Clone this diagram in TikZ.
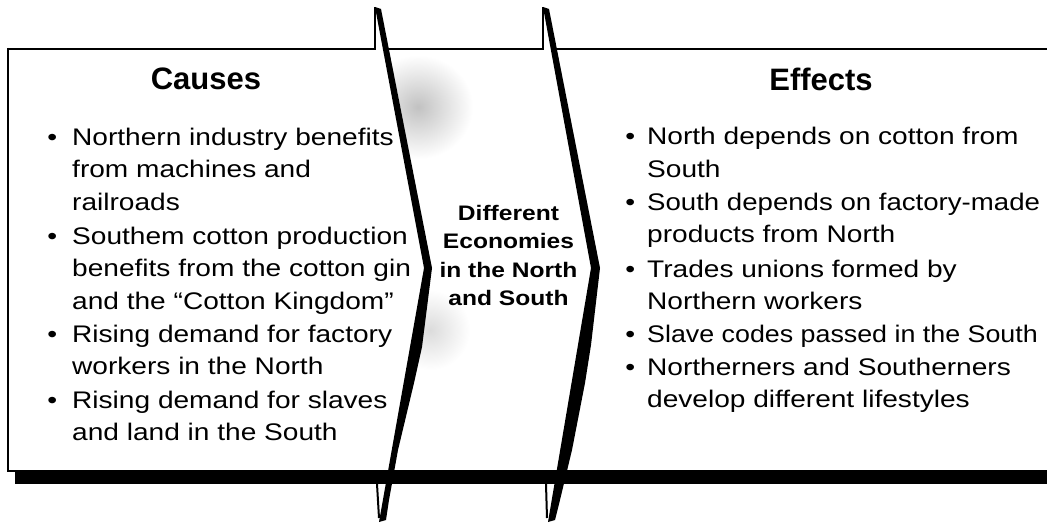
\documentclass[tikz,border=0pt]{standalone}
\usepackage{fontspec}
\setmainfont{Liberation Sans}[Ligatures=NoCommon]
\newfontfamily\bodyfont{Liberation Sans}[FakeStretch=1.17,Ligatures=NoCommon]
\newfontfamily\midfont{Liberation Sans}[FakeStretch=1.17,Ligatures=NoCommon]
\tikzset{
  edge/.style={line width=2pt, line cap=butt, line join=miter},
  chevfill/.style={fill=black},
  band/.style={fill=black},
  heading/.style={font=\bfseries\fontsize{31}{36}\selectfont, anchor=base, inner sep=0pt},
  item/.style={font=\bodyfont\fontsize{24}{32.75}\selectfont, anchor=base west, align=left, inner sep=0pt},
  midtext/.style={font=\midfont\bfseries\fontsize{21}{28.5}\selectfont, anchor=base, align=center, inner sep=0pt},
}
\begin{document}
\begin{tikzpicture}[x=1pt,y=-1pt]
\useasboundingbox (0,0) rectangle (1047,524);
\fill[white] (0,0) rectangle (1047,524);
% halftone-like shading in the middle band
\begin{scope}
  \clip (381,9) -- (432,268) -- (386,521) -- (700,521) -- (700,9) -- cycle;
  \shade[inner color=black!24, outer color=white] (418,107) ellipse [x radius=55pt, y radius=52pt];
  \shade[inner color=black!14, outer color=white] (430,330) ellipse [x radius=40pt, y radius=40pt];
\end{scope}
% box outline
\draw[edge] (8,49) -- (375,49) -- (375,7);
\draw[edge] (385,49) -- (543,49) -- (543,7);
\draw[edge] (553,49) -- (1048,49);
\draw[edge] (8,48) -- (8,471) -- (1048,471);
% shadow band
\fill[band] (15,472) rectangle (1048,484);
% bottom notches
\draw[edge] (377,484) -- (379,518);
\draw[edge] (546,484) -- (547,518);
% chevrons
\fill[chevfill] (375,7) -- (424,268) -- (379,522) -- (386,520) -- (389,500) -- (398,450) -- (414,383) -- (422,347) -- (432,268) -- (381,9) -- cycle;
\fill[chevfill] (543,7) -- (591,268) -- (548,522) -- (555,520) -- (560,500) -- (572,450) -- (585,383) -- (591,345) -- (600,268) -- (549,9) -- cycle;
% headings
\node[heading] (causes) at (206,90) {Causes};
\node[heading] (effects) at (821,91) {Effects};
% causes (anchored at the baseline of the last line)
\node[item] (c1) at (72,210.5) {\llap{•\hspace{15pt}}Northern industry benefits\\from machines and\\railroads};
\node[item] (c2) at (72,309.5) {\llap{•\hspace{15pt}}Southem cotton production\\benefits from the cotton gin\\and the “Cotton Kingdom”};
\node[item] (c3) at (72,374.75) {\llap{•\hspace{15pt}}Rising demand for factory\\workers in the North};
\node[item] (c4) at (72,440.75) {\llap{•\hspace{15pt}}Rising demand for slaves\\and land in the South};
% effects
\node[item] (e1) at (647,177.75) {\llap{•\hspace{12pt}}North depends on cotton from\\South};
\node[item] (e2) at (647,242.75) {\llap{•\hspace{12pt}}\scalebox{0.983}[1]{South depends on factory-made}\\products from North};
\node[item] (e3) at (647,309.75) {\llap{•\hspace{12pt}}Trades unions formed by\\Northern workers};
\node[item] (e4) at (647,342) {\llap{•\hspace{12pt}}\scalebox{0.955}[1]{Slave codes passed in the South}};
\node[item] (e5) at (647,407.75) {\llap{•\hspace{12pt}}Northerners and Southerners\\develop different lifestyles};
% middle
\node[midtext] (mid) at (508.5,305.5) {Different\\Economies\\in the North\\and South};
\end{tikzpicture}
\end{document}
